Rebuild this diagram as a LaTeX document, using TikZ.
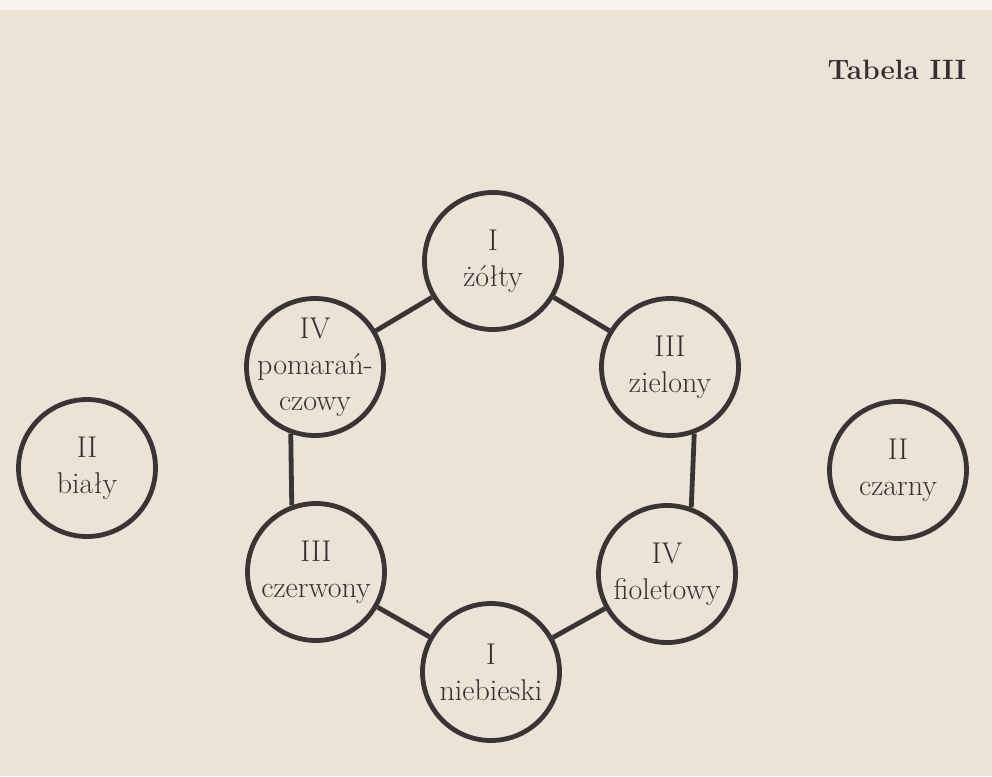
\documentclass[tikz,border=0pt]{standalone}
\usepackage{fontspec}
\definecolor{paper}{HTML}{EAE3D6}
\definecolor{ink}{HTML}{3A3434}
\definecolor{txt}{HTML}{363030}
\begin{document}
\begin{tikzpicture}[x=1pt,y=-1pt,
  colbox/.style={circle,draw=ink,line width=4.8pt,minimum size=137pt,inner sep=-20pt,
    align=center,text=txt,font=\fontsize{30}{36}\selectfont},
  link/.style={draw=ink,line width=4.8pt}]
\useasboundingbox (0,0) rectangle (992,776);
\fill[paper] (0,0) rectangle (992,776);
\fill[white!60!paper] (0,0) rectangle (992,10);
\node[anchor=base east,text=txt,font=\fontsize{28}{32}\selectfont\bfseries] (title) at (970,79) {Tabela III};
\node[colbox] (zol) at (493,261) {I\\żółty};
\node[colbox] (pom) at (315,367) {IV\\pomarań-\\czowy};
\node[colbox] (zie) at (670,367) {III\\zielony};
\node[colbox] (bia) at (87,468) {II\\biały};
\node[colbox] (cza) at (898,470) {II\\czarny};
\node[colbox] (cze) at (316,572) {III\\czerwony};
\node[colbox] (fio) at (667,574) {IV\\fioletowy};
\node[colbox] (nie) at (491,672) {I\\niebieski};
\draw[link] (pom) -- (zol);
\draw[link] (zol) -- (zie);
\draw[link] (pom.250) -- (cze.110);
\draw[link] (zie.290) -- (fio.70);
\draw[link] (cze) -- (nie);
\draw[link] (fio) -- (nie);
\end{tikzpicture}
\end{document}
